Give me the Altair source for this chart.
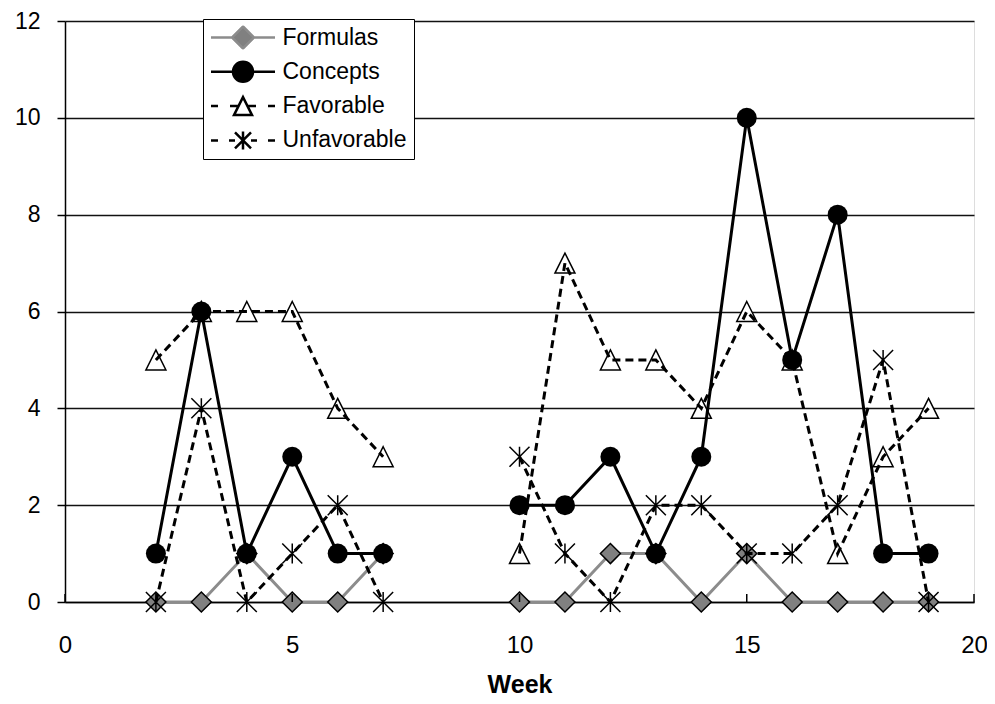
import altair as alt
import pandas as pd

weeks = [2, 3, 4, 5, 6, 7, 10, 11, 12, 13, 14, 15, 16, 17, 18, 19]
formulas = [0, 0, 1, 0, 0, 1, 0, 0, 1, 1, 0, 1, 0, 0, 0, 0]
concepts = [1, 6, 1, 3, 1, 1, 2, 2, 3, 1, 3, 10, 5, 8, 1, 1]
favorable = [5, 6, 6, 6, 4, 3, 1, 7, 5, 5, 4, 6, 5, 1, 3, 4]
unfavorable = [0, 4, 0, 1, 2, 0, 3, 1, 0, 2, 2, 1, 1, 2, 5, 0]
series_names = ["Formulas", "Concepts", "Favorable", "Unfavorable"]
x_ticks = [0, 5, 10, 15, 20]
y_ticks = [0, 2, 4, 6, 8, 10, 12]

FONT = "Liberation Sans"

rows = []
for name, vals in zip(series_names, [formulas, concepts, favorable, unfavorable]):
    for w, v in zip(weeks, vals):
        rows.append({"week": w, "value": v, "series": name, "seg": 0 if w < 9 else 1})
df = pd.DataFrame(rows)
tick_df = pd.DataFrame({"week": x_ticks})

W, H = 909, 581

x_enc = alt.X(
    "week:Q",
    scale=alt.Scale(domain=[0, 20], nice=False),
    axis=alt.Axis(
        values=x_ticks, title="Week", grid=False, tickSize=0, labelPadding=31,
        labelFontSize=24, labelFont=FONT, labelColor="black", labelFlush=False,
        titleFont=FONT, titleFontSize=25, titleFontWeight="bold", titleColor="black",
        titlePadding=15, domainColor="black", domainWidth=1.5, format="d",
    ),
)
y_enc = alt.Y(
    "value:Q",
    scale=alt.Scale(domain=[0, 12], nice=False),
    axis=alt.Axis(
        values=y_ticks, title=None, grid=True, gridColor="#111111", gridWidth=1.3,
        tickSize=8, tickColor="black", tickWidth=1.5, domainColor="black", domainWidth=1.5,
        labelPadding=17, labelFontSize=23, labelFont=FONT, labelColor="black",
        labelFlush=False, format="d",
    ),
)

base = alt.Chart(df).encode(x=x_enc, y=y_enc, detail="seg:N")

ASTER = "M0,-1L0,1M-1,-1L1,1M-1,1L1,-1"
TRI = "M0,-1L1,1L-1,1Z"


def sel(name):
    return base.transform_filter(alt.datum.series == name)


f_line = sel("Formulas").mark_line(color="#8c8c8c", strokeWidth=3)
f_pts = sel("Formulas").mark_point(shape="diamond", size=400, fill="#808080", stroke="black",
                                   strokeWidth=1.5, opacity=1)
fav_pts = sel("Favorable").mark_point(shape=TRI, size=400, fill="white", stroke="black",
                                      strokeWidth=1.5, opacity=1)
fav_line = sel("Favorable").mark_line(color="black", strokeWidth=3, strokeDash=[8, 5])
unf_line = sel("Unfavorable").mark_line(color="black", strokeWidth=3, strokeDash=[8, 5])
unf_pts = sel("Unfavorable").mark_point(shape=ASTER, size=400, fill="transparent", stroke="black",
                                        strokeWidth=1.5, opacity=1)
c_line = sel("Concepts").mark_line(color="black", strokeWidth=3)
c_pts = sel("Concepts").mark_point(shape="circle", size=400, fill="black", stroke="black",
                                   strokeWidth=0, opacity=1, filled=True)

ticks_in = alt.Chart(tick_df).mark_rule(color="black", strokeWidth=1.5).encode(
    x=x_enc,
    y=alt.value(H - 8),
    y2=alt.value(H),
)

leg_paths = [
    "M-3.2,0L-1.1,0M1.1,0L3.2,0M0,-1.1L1.1,0L0,1.1L-1.1,0Z",
    "M-3.2,0L-1,0M1,0L3.2,0M-1,0A1,1,0,1,0,1,0A1,1,0,1,0,-1,0Z",
    "M-3.2,0L-2.5,0M-1.3,0L-0.45,0M0.45,0L1.3,0M2.5,0L3.2,0M0,-0.9L0.9,0.9L-0.9,0.9Z",
    "M-3.2,0L-2.5,0M-1.4,0L-0.8,0M0.8,0L1.4,0M2.5,0L3.2,0M0,-0.9L0,0.9M-0.8,-0.8L0.8,0.8M-0.8,0.8L0.8,-0.8",
]
legend = alt.Legend(
    title=None, orient="none", legendX=138, legendY=-2, fillColor="white",
    strokeColor="black", padding=6.5, symbolSize=400, symbolStrokeWidth=2.5,
    symbolOffset=22, labelOffset=28, labelFont=FONT, labelFontSize=23,
    labelColor="black", rowPadding=10.3, clipHeight=24, labelLimit=400,
)
legend_layer = alt.Chart(df).transform_filter("false").mark_point(size=400, opacity=1).encode(
    shape=alt.Shape("series:N", scale=alt.Scale(domain=series_names, range=leg_paths), legend=legend),
    fill=alt.Fill("series:N", scale=alt.Scale(domain=series_names,
                                              range=["#808080", "black", "white", "transparent"]),
                  legend=legend),
    stroke=alt.Stroke("series:N", scale=alt.Scale(domain=series_names,
                                                  range=["#8c8c8c", "black", "black", "black"]),
                      legend=legend),
)

chart = alt.layer(
    f_line, f_pts, fav_pts, fav_line, unf_line, unf_pts, c_line, c_pts, ticks_in, legend_layer
).properties(
    width=W, height=H, autosize="none",
    padding={"left": 57, "top": 13, "right": 13, "bottom": 94},
).configure_view(stroke=None).configure(background="white")

chart.save("out.html", embed_options={"renderer": "svg", "actions": False})
